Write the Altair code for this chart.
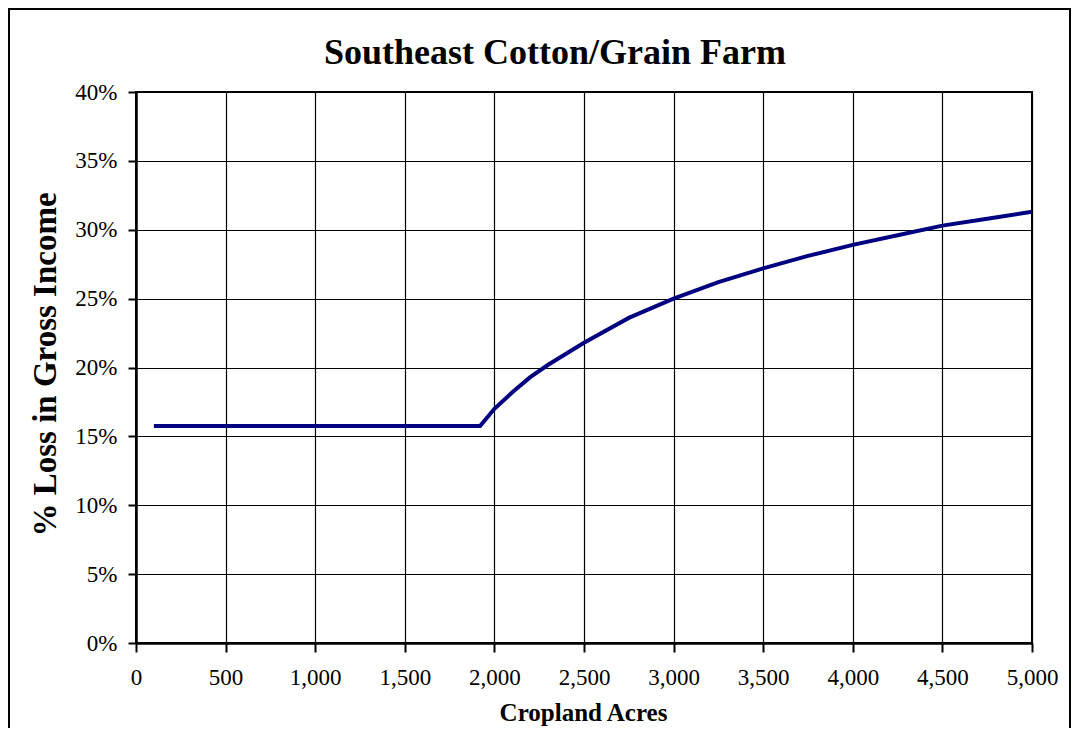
import altair as alt
import pandas as pd

acres = [100, 1920, 2000, 2100, 2200, 2300, 2500, 2750, 3000, 3250, 3500, 3750, 4000, 4250, 4500, 4750, 5000]
loss_pct = [15.75, 15.75, 17.0, 18.2, 19.3, 20.2, 21.8, 23.6, 25.0, 26.2, 27.2, 28.1, 28.9, 29.6, 30.3, 30.8, 31.3]
x_ticks = [0, 500, 1000, 1500, 2000, 2500, 3000, 3500, 4000, 4500, 5000]
y_ticks = [0, 0.05, 0.10, 0.15, 0.20, 0.25, 0.30, 0.35, 0.40]
title_text = "Southeast Cotton/Grain Farm"

df = pd.DataFrame({"acres": acres, "loss": [v / 100 for v in loss_pct]})

W, H = 896, 551
FONT = "Liberation Serif"

line = alt.Chart(df).mark_line(color="#000080", strokeWidth=4).encode(
    x=alt.X("acres:Q", scale=alt.Scale(domain=[0, 5000], nice=False),
            axis=alt.Axis(values=x_ticks, format=",d", title="Cropland Acres",
                          titleX=447, titleY=77, titleBaseline="alphabetic",
                          titleAlign="center", titleFontSize=25, tickSize=9,
                          labelPadding=14, labelFlush=False, grid=True)),
    y=alt.Y("loss:Q", scale=alt.Scale(domain=[0, 0.40], nice=False),
            axis=alt.Axis(values=y_ticks, format=".0%", title="% Loss in Gross Income",
                          titleX=-91, titleY=272, titleBaseline="middle",
                          titleAlign="center", titleAngle=-90, titleFontSize=33,
                          tickSize=8, labelPadding=11, labelFlush=False, grid=True)),
)

border = alt.Chart(df).mark_rect(fill=None, stroke="black", strokeWidth=2, clip=False).encode(
    x=alt.value(-127), x2=alt.value(934), y=alt.value(-83), y2=alt.value(H + 120)
)

title = alt.Chart(pd.DataFrame({"t": [title_text]})).mark_text(
    font=FONT, fontSize=36, fontWeight="bold", color="black",
    align="center", baseline="alphabetic"
).encode(text="t:N", x=alt.value(419), y=alt.value(-28))

chart = alt.layer(border, line, title).properties(
    width=W, height=H,
    background="white",
    autosize=alt.AutoSizeParams(type="none"),
    padding={"left": 128, "top": 84, "right": 39, "bottom": 85},
).configure_view(stroke="black", strokeWidth=2).configure_axis(
    labelFont=FONT, labelFontSize=23, labelColor="black",
    titleFont=FONT, titleFontWeight="bold", titleColor="black",
    gridColor="black", gridWidth=1.2, gridOpacity=1,
    domainColor="black", domainWidth=2.5, tickColor="black", tickWidth=2,
)

chart.save("out.html", embed_options={"renderer": "svg", "actions": False})
